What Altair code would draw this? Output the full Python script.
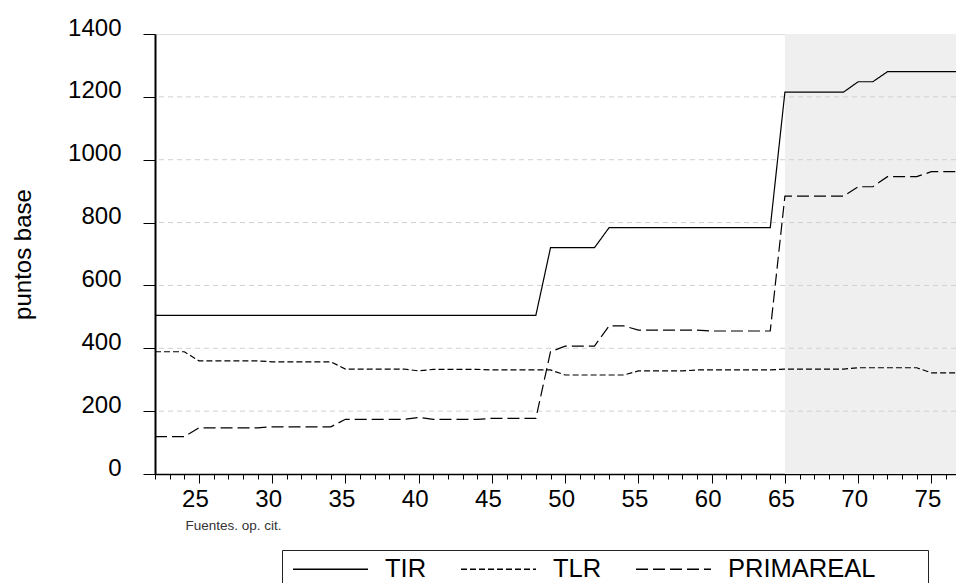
import altair as alt
import pandas as pd

# x positions (periods)
periods = list(range(22, 79))

tir = [505, 505, 505, 505, 505, 505, 505, 505, 505, 505,
       505, 505, 505, 505, 505, 505, 505, 505, 505, 505,
       505, 505, 505, 505, 505, 505, 505,
       720, 720, 720, 720,
       784, 784, 784, 784, 784, 784, 784, 784, 784, 784, 784, 784,
       1215, 1215, 1215, 1215, 1215,
       1248, 1248,
       1280, 1280, 1280, 1280, 1280, 1280, 1280]

tlr = [389, 389, 389,
       360, 360, 360, 360, 360,
       357, 357, 357, 357, 357,
       334, 334, 334, 334, 334,
       328,
       333, 333, 333, 333,
       331, 331, 331, 331, 331,
       315, 315, 315, 315, 315,
       328, 328, 328, 328,
       331, 331, 331, 331, 331, 331,
       334, 334, 334, 334, 334,
       338, 338, 338, 338, 338,
       322, 322, 322, 322]

primareal = [119, 119, 119,
             147, 147, 147, 147, 147,
             150, 150, 150, 150, 150,
             174, 174, 174, 174, 174,
             180,
             174, 174, 174, 174,
             177, 177, 177, 177,
             389,
             407, 407, 407,
             471, 471,
             458, 458, 458, 458, 458,
             455, 455, 455, 455, 455,
             884, 884, 884, 884, 884,
             914, 914,
             946, 946, 946,
             962, 962, 962, 962]

series_names = ["TIR", "TLR", "PRIMAREAL"]
shade_start = [65]
shade_end = [78]
grid_values = [200, 400, 600, 800, 1000, 1200]
y_ticks = [0, 200, 400, 600, 800, 1000, 1200, 1400]
x_major = [25, 30, 35, 40, 45, 50, 55, 60, 65, 70, 75]
x_minor = list(range(22, 77))

rows = []
for name, vals in zip(series_names, [tir, tlr, primareal]):
    for p, v in zip(periods, vals):
        rows.append({"x": p, "v": v, "serie": name})
lines_df = pd.DataFrame(rows)
shade_df = pd.DataFrame({"s": shade_start, "e": shade_end})
grid_df = pd.DataFrame({"g": grid_values})

FONT = "Liberation Sans"
xscale = alt.Scale(domain=[22, 76.68], nice=False, zero=False)
yscale = alt.Scale(domain=[0, 1400], nice=False)

def y_axis():
    return alt.Axis(values=y_ticks, format="d", tickSize=12, tickColor="black", labelPadding=22,
                    labelFontSize=24, labelFont=FONT, labelColor="black", labelOffset=-6,
                    domainColor="black", domainWidth=2, grid=False,
                    title="puntos base", titleFontSize=24, titleFont=FONT,
                    titleFontWeight="normal", titleColor="black", titleX=-132, titleY=220,
                    titleAngle=270, titleAlign="center", titleBaseline="middle")

major_axis = alt.Axis(values=x_major, format="d", tickSize=9, tickColor="black", tickWidth=1,
                      labelFontSize=24, labelFont=FONT, labelColor="black", labelPadding=4,
                      labelOffset=-4, labelFlush=False, labelOverlap=False,
                      domainColor="black", domainWidth=1.5, grid=False, orient="bottom",
                      title="Fuentes. op. cit.", titleX=30, titleY=55, titleAlign="left",
                      titleBaseline="alphabetic", titleFontSize=13.5, titleFont=FONT,
                      titleFontWeight="normal", titleColor="#333333")

minor_axis = alt.Axis(values=x_minor, tickSize=5, tickColor="black", labels=False,
                      domain=False, grid=False, orient="bottom", title=None)

shade = alt.Chart(shade_df).mark_rect(color="#efefef", clip=True).encode(
    x=alt.X("s:Q", scale=xscale, axis=minor_axis),
    x2="e:Q",
)

grid = alt.Chart(grid_df).mark_rule(color="#d0d0d0", strokeDash=[5, 4], strokeWidth=1).encode(
    y=alt.Y("g:Q", scale=yscale, axis=y_axis()),
)

pad = "\u00a0" * 6 + "\u200b"
legend = alt.Legend(title=None, orient="none", legendX=127, legendY=516,
                    direction="horizontal", symbolType="stroke", symbolSize=5625,
                    symbolStrokeWidth=1.3, symbolStrokeColor="black", clipHeight=18,
                    labelFontSize=25.5, labelFont=FONT, labelColor="black", labelOffset=16,
                    columnPadding=33, padding=10, strokeColor="#222222", fillColor="white",
                    labelLimit=500,
                    labelExpr="datum.label == 'PRIMAREAL' ? datum.label + '" + pad + "' : datum.label")

lines = alt.Chart(lines_df).mark_line(color="black", strokeWidth=1.2, clip=True).encode(
    x=alt.X("x:Q", scale=xscale, axis=major_axis),
    y=alt.Y("v:Q", scale=yscale, axis=y_axis()),
    strokeDash=alt.StrokeDash("serie:N",
                              scale=alt.Scale(domain=series_names,
                                              range=[[1, 0], [6, 3], [12, 5]]),
                              legend=legend),
    detail="serie:N",
)

chart = alt.layer(shade, grid, lines).resolve_axis(x="independent").properties(
    width=801, height=440,
    autosize=alt.AutoSizeParams(type="none"),
    padding={"left": 147, "top": 26, "right": 0, "bottom": 109},
).configure_view(stroke=None).configure(background="white")

chart.save("out.html", embed_options={"renderer": "svg", "actions": False})
